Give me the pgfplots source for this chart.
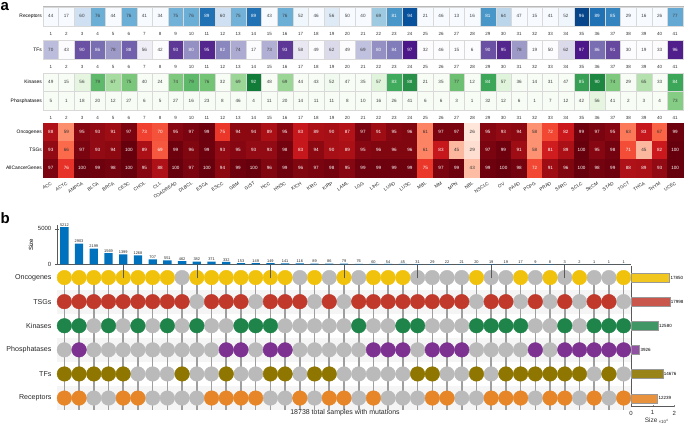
\documentclass[border=0pt]{standalone}
\usepackage{pgfplots}
\usepackage{pgfplotstable}
\pgfplotsset{compat=1.18}
\usepackage{fontspec}
\setmainfont{Liberation Sans}

\definecolor{onc}{RGB}{240,194,12}
\definecolor{tsg}{RGB}{192,57,43}
\definecolor{kin}{RGB}{30,132,73}
\definecolor{pho}{RGB}{125,50,146}
\definecolor{tfc}{RGB}{142,118,0}
\definecolor{rec}{RGB}{230,134,40}
\definecolor{dotgray}{RGB}{186,186,186}
\definecolor{barblue}{RGB}{0,114,189}

\pgfplotsset{
  /pgf/number format/assume math mode=true,
  /pgf/number format/1000 sep={},
}

\pgfplotstableread{
x rec tf kin pho onc tsg all
1 44 70 49 5 88 93 97
2 17 43 15 1 59 66 76
3 60 90 56 18 95 97 100
4 76 86 79 20 93 93 99
5 44 78 67 12 91 94 98
6 76 88 75 27 97 100 100
7 41 56 40 6 73 89 95
8 34 42 24 5 70 69 88
9 75 93 74 27 95 99 100
10 76 80 79 16 97 96 97
11 89 95 76 23 99 99 100
12 60 82 32 8 75 93 94
13 75 74 69 46 94 95 99
14 89 17 92 4 94 93 100
15 43 73 48 11 89 93 96
16 76 93 69 20 95 98 99
17 52 58 44 14 83 83 96
18 46 49 43 11 89 94 97
19 56 62 52 11 90 90 98
20 50 49 47 8 87 89 95
21 40 69 35 10 97 95 99
22 69 80 57 16 91 96 99
23 81 84 83 26 95 96 99
24 94 97 88 41 96 96 99
25 21 32 21 6 61 61 75
26 46 46 35 6 97 83 97
27 13 15 77 3 97 45 99
28 16 6 12 1 26 29 43
29 81 90 84 32 95 97 99
30 64 95 57 12 93 99 100
31 47 78 36 6 94 91 98
32 15 19 14 1 58 58 72
33 41 50 31 7 72 81 91
34 52 62 47 12 82 89 96
35 96 97 85 42 99 100 100
36 89 86 90 56 97 95 98
37 85 91 74 41 95 98 99
38 29 30 29 2 63 71 88
39 16 19 65 3 83 45 89
40 26 33 33 4 67 82 93
41 77 96 84 73 99 100 100
}\hm

\pgfplotstableread{
c size on ts ki ph tf re
1 5212 1 1 1 0 1 1
2 2903 1 1 1 1 1 1
3 2199 1 1 0 0 1 0
4 1569 1 1 1 0 1 0
5 1399 1 1 0 0 1 1
6 1268 1 1 1 0 0 1
7 707 1 1 0 0 0 0
8 551 1 1 1 0 0 0
9 462 0 1 0 0 1 0
10 382 1 0 1 0 0 0
11 371 1 1 0 0 0 1
12 332 1 1 0 1 1 1
13 153 1 1 1 1 0 1
14 149 1 0 1 0 0 1
15 149 1 1 1 1 1 0
16 141 1 1 0 1 1 0
17 116 0 1 0 0 0 1
18 89 1 0 0 0 1 0
19 86 0 1 0 0 1 1
20 79 1 0 0 0 0 1
21 76 0 1 1 0 0 0
22 60 1 1 0 1 0 1
23 54 1 1 0 1 0 0
24 45 1 1 1 1 0 0
25 31 0 1 1 0 1 0
26 29 0 1 0 1 1 1
27 22 0 1 0 1 0 1
28 21 0 1 0 1 0 0
29 20 1 0 1 0 1 0
30 19 0 1 1 0 0 1
31 19 0 1 1 0 1 1
32 17 1 0 1 0 1 1
33 9 0 1 0 1 1 0
34 8 1 0 0 0 1 1
35 3 0 1 1 1 1 1
36 2 1 0 0 1 1 0
37 1 0 1 1 1 0 1
38 1 0 1 1 1 1 0
39 1 1 0 1 1 0 1
}\up

\pgfdeclareplotmark{cellA}{\pgfpathrectangle{\pgfpoint{-7.805pt}{-9.65pt}}{\pgfpoint{15.61pt}{19.3pt}}\pgfusepathqfillstroke}
\pgfdeclareplotmark{cellB}{\pgfpathrectangle{\pgfpoint{-7.805pt}{-9.5pt}}{\pgfpoint{15.61pt}{19pt}}\pgfusepathqfillstroke}
\pgfdeclareplotmark{cellC}{\pgfpathrectangle{\pgfpoint{-7.805pt}{-9.25pt}}{\pgfpoint{15.61pt}{18.5pt}}\pgfusepathqfillstroke}
\pgfdeclareplotmark{cellD}{\pgfpathrectangle{\pgfpoint{-7.805pt}{-9pt}}{\pgfpoint{15.61pt}{18pt}}\pgfusepathqfillstroke}

\pgfplotsset{
  hmaxis/.style={
    scale only axis, anchor=south west, width=640pt,
    xmin=0.5, xmax=41.5, ymin=0.5,
    axis line style={gray!55, line width=0.4pt},
    xtick={1,...,41}, major tick length=0pt,
    xticklabel style={font=\fontsize{4.5}{5}\selectfont, text=black!80, yshift=-3pt},
    yticklabel style={font=\fontsize{4.9}{5.5}\selectfont, inner sep=1pt},
    point meta min=0, point meta max=100,
    clip=false,
  },
  hmcells/.style n args={2}{
    scatter, only marks, mark=#1, scatter src=explicit,
    scatter/use mapped color={draw=#2, fill=mapped color},
    mark options={line width=0.3pt},
  },
  hmlab/.style n args={3}{
    only marks, mark=none, point meta=explicit,
    restrict expr to domain={\thisrow{#1}}{#2},
    nodes near coords,
    nodes near coords style={anchor=center, inner sep=0pt, text=#3, font=\fontsize{4.6}{5}\selectfont},
  },
  dot/.style={only marks, mark=*, mark size=7.3pt, mark options={draw=none}},
  sbar/.style={xbar, bar shift=0pt, bar width=9pt, draw=gray!80, line width=0.4pt,
    nodes near coords, nodes near coords style={font=\fontsize{4.5}{5}\selectfont, inner sep=0.8pt, text=black}},
}

\begin{document}
\begin{tikzpicture}
\useasboundingbox (0pt,0pt) rectangle (685pt,425pt);
\node[anchor=north west, inner sep=0pt, font=\bfseries\fontsize{15}{15}\selectfont] at (0.5pt,422.5pt) {a};
\node[anchor=north west, inner sep=0pt, font=\bfseries\fontsize{15}{15}\selectfont] at (0.5pt,213pt) {b};

% ---------- Receptors
\begin{axis}[hmaxis, at={(43pt,399pt)}, height=19.3pt, ymax=1.5,
  ytick={1}, yticklabels={Receptors},
  colormap={hmb}{rgb255(0cm)=(247,251,255); rgb255(50cm)=(247,251,255); rgb255(56cm)=(222,235,247);
    rgb255(62cm)=(198,219,239); rgb255(69cm)=(158,202,225); rgb255(76cm)=(107,174,214);
    rgb255(82cm)=(66,146,198); rgb255(89cm)=(33,113,181); rgb255(94cm)=(8,81,156); rgb255(100cm)=(8,48,107)}]
\addplot[hmcells={cellA}{gray!30}] table[x=x, y expr=1, meta=rec] {\hm};
\addplot[hmlab={rec}{0:79}{black!75}] table[x=x, y expr=1, meta=rec] {\hm};
\addplot[hmlab={rec}{80:100}{white}] table[x=x, y expr=1, meta=rec] {\hm};
\end{axis}

% ---------- TFs
\begin{axis}[hmaxis, at={(43pt,366pt)}, height=19pt, ymax=1.5,
  ytick={1}, yticklabels={TFs},
  colormap={hmp}{rgb255(0cm)=(252,251,253); rgb255(50cm)=(252,251,253); rgb255(56cm)=(239,237,245);
    rgb255(62cm)=(218,218,235); rgb255(70cm)=(188,189,220); rgb255(78cm)=(158,154,200);
    rgb255(84cm)=(128,125,186); rgb255(90cm)=(106,81,163); rgb255(95cm)=(84,39,143); rgb255(100cm)=(63,0,125)}]
\addplot[hmcells={cellB}{gray!30}] table[x=x, y expr=1, meta=tf] {\hm};
\addplot[hmlab={tf}{0:79}{black!75}] table[x=x, y expr=1, meta=tf] {\hm};
\addplot[hmlab={tf}{80:100}{white}] table[x=x, y expr=1, meta=tf] {\hm};
\end{axis}

% ---------- Kinases / Phosphatases
\begin{axis}[hmaxis, at={(43pt,315pt)}, height=37pt, ymax=2.5,
  ytick={1,2}, yticklabels={Phosphatases,Kinases},
  colormap={hmg}{rgb255(0cm)=(247,252,245); rgb255(50cm)=(247,252,245); rgb255(56cm)=(229,245,224);
    rgb255(62cm)=(199,233,192); rgb255(68cm)=(161,217,155); rgb255(76cm)=(116,196,118);
    rgb255(83cm)=(65,171,93); rgb255(89cm)=(35,139,69); rgb255(95cm)=(0,109,44); rgb255(100cm)=(0,68,27)}]
\addplot[hmcells={cellC}{gray!30}] table[x=x, y expr=2, meta=kin] {\hm};
\addplot[hmcells={cellC}{gray!30}] table[x=x, y expr=1, meta=pho] {\hm};
\addplot[hmlab={kin}{0:79}{black!75}] table[x=x, y expr=2, meta=kin] {\hm};
\addplot[hmlab={kin}{80:100}{white}] table[x=x, y expr=2, meta=kin] {\hm};
\addplot[hmlab={pho}{0:100}{black!75}] table[x=x, y expr=1, meta=pho] {\hm};
\end{axis}

% ---------- Reds
\begin{axis}[hmaxis, at={(43pt,248pt)}, height=54pt, ymax=3.5,
  ytick={1,2,3}, yticklabels={AllCancerGenes,TSGs,Oncogenes},
  xticklabels={ACC,ACYC,AMPCA,BLCA,BRCA,CESC,CHOL,CLL,COADREAD,DLBCL,ESCA,ESCC,GBM,GIST,HCC,HNSC,KICH,KIRC,KIRP,LAML,LGG,LIHC,LUAD,LUSC,MBL,MM,MPN,NBL,NSCLC,OV,PAAD,PCPG,PRAD,SARC,SCLC,SKCM,STAD,TGCT,THCA,THYM,UCEC},
  xticklabel style={rotate=33, anchor=north east, yshift=0pt, inner sep=1pt, font=\fontsize{4.7}{5}\selectfont, text=black!85},
  colormap={hmr}{rgb255(0cm)=(255,245,240); rgb255(25cm)=(254,232,221); rgb255(30cm)=(253,220,205);
    rgb255(44cm)=(252,187,161); rgb255(58cm)=(252,146,114); rgb255(66cm)=(251,106,74);
    rgb255(74cm)=(239,59,44); rgb255(82cm)=(203,24,29); rgb255(90cm)=(165,15,21); rgb255(100cm)=(103,0,13)}]
\addplot[hmcells={cellD}{mapped color}] table[x=x, y expr=3, meta=onc] {\hm};
\addplot[hmcells={cellD}{mapped color}] table[x=x, y expr=2, meta=tsg] {\hm};
\addplot[hmcells={cellD}{mapped color}] table[x=x, y expr=1, meta=all] {\hm};
\addplot[hmlab={onc}{0:67}{black!80}] table[x=x, y expr=3, meta=onc] {\hm};
\addplot[hmlab={onc}{68:100}{white}] table[x=x, y expr=3, meta=onc] {\hm};
\addplot[hmlab={tsg}{0:67}{black!80}] table[x=x, y expr=2, meta=tsg] {\hm};
\addplot[hmlab={tsg}{68:100}{white}] table[x=x, y expr=2, meta=tsg] {\hm};
\addplot[hmlab={all}{0:67}{black!80}] table[x=x, y expr=1, meta=all] {\hm};
\addplot[hmlab={all}{68:100}{white}] table[x=x, y expr=1, meta=all] {\hm};
\end{axis}

% ---------- UpSet matrix
\begin{axis}[scale only axis, anchor=south west, at={(57pt,14.9pt)}, width=574pt, height=144.6pt,
  xmin=0.5, xmax=39.5, ymin=0.5, ymax=6.5,
  axis line style={draw=none}, xtick=\empty, major tick length=0pt,
  ytick={1,...,6}, yticklabels={Receptors,TFs,Phosphatases,Kinases,TSGs,Oncogenes},
  yticklabel style={font=\fontsize{7.1}{8}\selectfont, text=black!85, xshift=-2pt}]
\fill[black!4] (axis cs:0.5,4.5) rectangle (axis cs:39.5,5.5);
\fill[black!4] (axis cs:0.5,2.5) rectangle (axis cs:39.5,3.5);
\fill[black!4] (axis cs:0.5,0.5) rectangle (axis cs:39.5,1.5);
\addplot[ycomb, draw=gray!75, line width=1.6pt, mark=none] table[x=c, y expr=6] {\up};
\addplot[dot, dotgray, restrict expr to domain={\thisrow{on}}{0:0}] table[x=c, y expr=6] {\up};
\addplot[dot, onc, restrict expr to domain={\thisrow{on}}{1:1}] table[x=c, y expr=6] {\up};
\addplot[dot, dotgray, restrict expr to domain={\thisrow{ts}}{0:0}] table[x=c, y expr=5] {\up};
\addplot[dot, tsg, restrict expr to domain={\thisrow{ts}}{1:1}] table[x=c, y expr=5] {\up};
\addplot[dot, dotgray, restrict expr to domain={\thisrow{ki}}{0:0}] table[x=c, y expr=4] {\up};
\addplot[dot, kin, restrict expr to domain={\thisrow{ki}}{1:1}] table[x=c, y expr=4] {\up};
\addplot[dot, dotgray, restrict expr to domain={\thisrow{ph}}{0:0}] table[x=c, y expr=3] {\up};
\addplot[dot, pho, restrict expr to domain={\thisrow{ph}}{1:1}] table[x=c, y expr=3] {\up};
\addplot[dot, dotgray, restrict expr to domain={\thisrow{tf}}{0:0}] table[x=c, y expr=2] {\up};
\addplot[dot, tfc, restrict expr to domain={\thisrow{tf}}{1:1}] table[x=c, y expr=2] {\up};
\addplot[dot, dotgray, restrict expr to domain={\thisrow{re}}{0:0}] table[x=c, y expr=1] {\up};
\addplot[dot, rec, restrict expr to domain={\thisrow{re}}{1:1}] table[x=c, y expr=1] {\up};
\end{axis}

% ---------- intersection size bars
\begin{axis}[scale only axis, anchor=south west, at={(57pt,160.7pt)}, width=574pt, height=39.2pt,
  xmin=0.5, xmax=39.5, ymin=0, ymax=5500, clip=false,
  axis x line=bottom, axis y line=left, axis line style={-, black!65, line width=0.5pt},
  ytick={0,5000}, scaled y ticks=false,
  yticklabel style={font=\fontsize{6}{7}\selectfont, text=black!85},
  ytick style={black!65},
  xtick=\empty,
  extra x ticks={5,10,...,35}, extra x tick labels={},
  extra x tick style={major tick length=14pt, tick align=outside, tick style={black!65, line width=0.6pt}},
  ylabel={Size}, ylabel style={font=\fontsize{6}{7}\selectfont, yshift=-2pt}]
\addplot[ybar, bar width=8.3pt, fill=barblue, draw=none,
  nodes near coords, nodes near coords style={font=\fontsize{3.9}{4}\selectfont, inner sep=0.6pt, text=black!85}]
  table[x=c, y=size] {\up};
\end{axis}

% ---------- set size bars
\begin{axis}[scale only axis, anchor=south west, at={(631pt,18.7pt)}, width=43.3pt, height=140.6pt,
  xmin=0, xmax=20000, ymin=0.666, ymax=6.5, clip=false,
  axis x line=bottom, axis y line=left, axis line style={-, black!65, line width=0.5pt},
  ytick=\empty, xtick={0,10000,20000}, xticklabels={0,1,2}, scaled x ticks=false,
  xticklabel style={font=\fontsize{6}{7}\selectfont, text=black!85},
  major tick length=2pt,
  xlabel={Size\,{\fontsize{4.5}{5}\selectfont\raisebox{-0.5pt}{×10\textsuperscript{4}}}},
  xlabel style={font=\fontsize{6.5}{7}\selectfont, text=black!80, yshift=4pt, xshift=4pt}]
\addplot[sbar, fill=onc!92!white] coordinates {(17850,6)};
\addplot[sbar, fill=tsg!85!white] coordinates {(17998,5)};
\addplot[sbar, fill=kin!85!white] coordinates {(12580,4)};
\addplot[sbar, fill=pho!85!white] coordinates {(3926,3)};
\addplot[sbar, fill=tfc!90!white] coordinates {(14676,2)};
\addplot[sbar, fill=rec!90!white] coordinates {(12239,1)};
\end{axis}

\node[font=\fontsize{7}{8}\selectfont, text=black!85] at (345pt,12.3pt) {18738 total samples with mutations};
\end{tikzpicture}
\end{document}
